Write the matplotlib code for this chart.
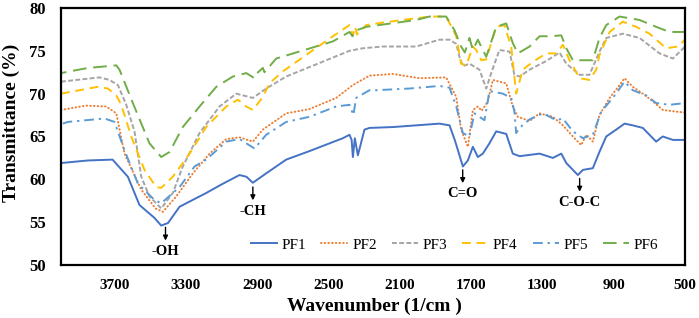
import numpy as np
import matplotlib.pyplot as plt

plt.rcParams['font.family'] = ['Liberation Serif', 'DejaVu Serif']

# wavenumber (1/cm) and transmittance (%)
wn_pf1 = [4000, 3850, 3711, 3625, 3560, 3476, 3438, 3400, 3335, 3270,
          3186, 3100, 2999, 2960, 2924, 2890, 2849, 2737, 2606, 2419,
          2382, 2370, 2363, 2352, 2335, 2298, 2270, 2139, 1877, 1821,
          1790, 1746, 1718, 1690, 1662, 1634, 1597, 1559, 1503, 1466,
          1428, 1316, 1241, 1194, 1166, 1101, 1073, 1017, 980, 942,
          886, 839, 793, 737, 690, 662, 625, 568, 500]
t_pf1 = [61.9, 62.2, 62.3, 60.3, 57.0, 55.5, 54.6, 54.9, 56.8, 57.5,
         58.4, 59.4, 60.5, 60.3, 59.6, 60.1, 60.7, 62.3, 63.3, 64.8,
         65.2, 64.6, 62.6, 64.8, 62.8, 65.8, 66.0, 66.1, 66.5, 66.3,
         64.5, 61.5, 62.2, 63.8, 62.6, 63.0, 64.2, 65.6, 65.3, 63.0,
         62.7, 63.0, 62.5, 63.0, 61.9, 60.5, 61.1, 61.3, 63.2, 65.0,
         65.8, 66.5, 66.3, 66.0, 65.0, 64.4, 65.0, 64.6, 64.6]

wn_pf2 = [4000, 3859, 3746, 3690, 3644, 3550, 3470, 3429, 3354, 3260,
          3167, 3073, 2999, 2924, 2868, 2737, 2606, 2457, 2363, 2270,
          2139, 1989, 1840, 1783, 1756, 1718, 1690, 1662, 1640, 1606,
          1578, 1541, 1503, 1466, 1438, 1372, 1316, 1241, 1185, 1120,
          1082, 1054, 1017, 980, 923, 867, 839, 793, 737, 681,
          625, 550, 500]
t_pf2 = [68.1, 68.6, 68.5, 67.7, 63.0, 58.8, 56.6, 56.2, 58.0, 60.7,
         63.0, 64.7, 64.9, 64.4, 65.8, 67.7, 68.2, 69.5, 71.0, 72.1,
         72.3, 71.8, 71.9, 69.6, 65.8, 63.8, 68.1, 68.5, 68.0, 69.1,
         71.6, 71.4, 71.2, 68.5, 67.3, 66.8, 67.7, 67.3, 66.3, 64.8,
         64.0, 65.2, 64.4, 67.5, 69.5, 71.0, 71.8, 70.8, 70.0, 69.1,
         68.1, 67.9, 67.8]

wn_pf3 = [4000, 3784, 3728, 3681, 3634, 3588, 3550, 3504, 3438, 3373,
          3317, 3223, 3111, 3017, 2924, 2849, 2737, 2382, 2307, 2195,
          2008, 1877, 1821, 1783, 1765, 1746, 1709, 1653, 1615, 1587,
          1541, 1484, 1457, 1428, 1372, 1279, 1204, 1166, 1091, 1036,
          980, 942, 849, 755, 643, 568, 500]
t_pf3 = [71.4, 71.9, 71.6, 71.0, 68.7, 65.6, 60.3, 58.0, 56.6, 58.4,
         61.5, 65.4, 68.5, 70.0, 69.5, 70.6, 72.0, 75.0, 75.3, 75.5,
         75.5, 76.3, 76.3, 75.8, 74.3, 73.2, 73.5, 72.8, 70.6, 72.4,
         75.1, 74.9, 72.2, 72.0, 72.8, 73.8, 74.8, 73.5, 72.2, 72.2,
         74.9, 76.5, 77.0, 76.5, 74.7, 74.1, 75.5]

wn_pf4 = [4000, 3794, 3737, 3690, 3662, 3606, 3532, 3466, 3438, 3373,
          3279, 3186, 3073, 3008, 2961, 2924, 2868, 2831, 2756, 2475,
          2382, 2363, 2350, 2340, 2288, 2195, 1933, 1840, 1783, 1756,
          1727, 1690, 1671, 1643, 1615, 1559, 1513, 1475, 1447, 1410,
          1354, 1279, 1222, 1185, 1148, 1091, 1036, 998, 980, 923,
          849, 774, 699, 606, 540, 500]
t_pf4 = [70.0, 70.8, 70.6, 69.8, 68.7, 65.0, 61.1, 59.1, 59.0, 60.3,
         63.0, 66.1, 68.5, 69.3, 68.5, 68.1, 69.6, 71.2, 72.6, 76.7,
         78.0, 76.8, 77.8, 76.9, 78.0, 78.3, 79.0, 79.0, 76.7, 73.5,
         73.3, 75.5, 75.1, 73.9, 74.0, 77.8, 78.0, 75.5, 70.0, 72.8,
         73.7, 74.7, 74.7, 75.7, 73.9, 71.8, 71.6, 72.8, 74.5, 77.2,
         78.4, 77.8, 77.0, 75.3, 75.5, 76.3]

wn_pf5 = [3990, 3962, 3756, 3700, 3644, 3569, 3476, 3438, 3335, 3251,
          3186, 3073, 2999, 2915, 2849, 2737, 2606, 2457, 2382, 2360,
          2345, 2270, 2232, 2045, 1877, 1821, 1783, 1746, 1709, 1681,
          1653, 1625, 1597, 1522, 1475, 1457, 1447, 1428, 1372, 1297,
          1222, 1185, 1129, 1073, 1017, 970, 905, 839, 793, 718,
          662, 587, 500]
t_pf5 = [66.5, 66.7, 67.1, 66.7, 63.4, 59.5, 57.6, 57.2, 59.1, 61.5,
         62.3, 64.4, 64.7, 63.6, 65.2, 66.7, 67.3, 68.5, 68.7, 67.5,
         69.5, 70.4, 70.4, 70.6, 70.9, 70.7, 68.5, 65.4, 65.0, 67.7,
         67.3, 66.9, 70.3, 70.0, 69.5, 67.9, 65.4, 66.0, 67.0, 67.7,
         66.9, 67.1, 65.6, 64.8, 65.2, 67.9, 69.5, 71.4, 70.4, 69.8,
         68.9, 68.7, 68.9]

wn_pf6 = [4000, 4000, 3850, 3690, 3672, 3597, 3504, 3438, 3391, 3317,
          3223, 3129, 3036, 2961, 2915, 2900, 2868, 2859, 2793, 2475,
          2382, 2365, 2355, 2288, 2008, 1933, 1840, 1793, 1756, 1735,
          1709, 1690, 1662, 1615, 1559, 1503, 1466, 1438, 1372, 1316,
          1260, 1194, 1166, 1129, 1017, 980, 942, 867, 755, 662,
          587, 500]
t_pf6 = [50.0, 72.4, 73.0, 73.3, 72.8, 68.9, 64.2, 62.6, 63.2, 66.1,
         68.5, 70.8, 72.0, 72.4, 71.8, 72.4, 73.0, 72.5, 74.1, 76.1,
         77.2, 76.7, 77.3, 77.8, 78.6, 79.0, 79.0, 77.4, 75.5, 74.8,
         76.5, 75.1, 76.3, 74.3, 77.8, 78.2, 75.9, 74.7, 75.5, 76.7,
         76.7, 76.8, 75.3, 73.9, 73.9, 76.5, 78.0, 79.0, 78.6, 77.8,
         77.2, 77.2]

labels = ['PF1', 'PF2', 'PF3', 'PF4', 'PF5', 'PF6']
xticks = [3700, 3300, 2900, 2500, 2100, 1700, 1300, 900, 500]
yticks = [50, 55, 60, 65, 70, 75, 80]

# band labels: name, wavenumber
bands = ['-OH', '-CH', 'C=O', 'C-O-C']
band_wn = [3414, 2924, 1747, 1091]

fig = plt.figure(figsize=(6.99, 3.18), dpi=100)
ax = fig.add_axes([0.0873, 0.1667, 0.8927, 0.8082])

ax.plot(wn_pf1, t_pf1, color='#4472C4', lw=1.4, ls='-', label=labels[0])
ax.plot(wn_pf2, t_pf2, color='#ED7D31', lw=1.4, ls=(0, (0.3, 1.6)),
        dash_capstyle='round', label=labels[1])
ax.plot(wn_pf3, t_pf3, color='#A5A5A5', lw=1.4, ls=(0, (2.5, 1.2)), label=labels[2])
ax.plot(wn_pf4, t_pf4, color='#FFC000', lw=1.4, ls=(0, (4.5, 3)), label=labels[3])
ax.plot(wn_pf5, t_pf5, color='#5B9BD5', lw=1.4, ls=(0, (5, 2.5, 1.2, 2.5)), label=labels[4])
ax.plot(wn_pf6, t_pf6, color='#70AD47', lw=1.4, ls=(0, (7, 3.5)), label=labels[5])

ax.set_xlim(4000, 500)
ax.set_ylim(50, 80)
ax.set_xticks(xticks)
ax.set_yticks(yticks)
ax.tick_params(axis='x', length=0, pad=10, labelsize=11)
ax.tick_params(axis='y', length=0, pad=11, labelsize=12)
for lab in ax.get_xticklabels() + ax.get_yticklabels():
    lab.set_fontweight('bold')
for sp in ax.spines.values():
    sp.set_linewidth(1.6)
    sp.set_color('black')

ax.set_xlabel('Wavenumber (1/cm )', fontsize=14, fontweight='bold')
ax.set_ylabel('Transmittance (%)', fontsize=14, fontweight='bold')
ax.xaxis.set_label_coords(0.503, -0.128)
ax.yaxis.set_label_coords(-0.066, 0.554)

# arrows and labels for the bands
arrow_top = [54.4, 59.1, 61.1, 60.1]
for name, w, top in zip(bands, band_wn, arrow_top):
    ax.annotate('', xy=(w, top - 1.55), xytext=(w, top),
                arrowprops=dict(arrowstyle='-|>', color='black', lw=1,
                                mutation_scale=7, shrinkA=0, shrinkB=0))
    ax.text(w, top - 2.8, name, ha='center', va='center', fontsize=10.5,
            fontweight='bold')

ax.legend(loc='center', bbox_to_anchor=(0.631, 0.078), ncol=6, frameon=False,
          fontsize=11, handlelength=1.7, handletextpad=0.3, columnspacing=1.0,
          borderpad=0, borderaxespad=0)

fig.savefig('out.png', dpi=100)
